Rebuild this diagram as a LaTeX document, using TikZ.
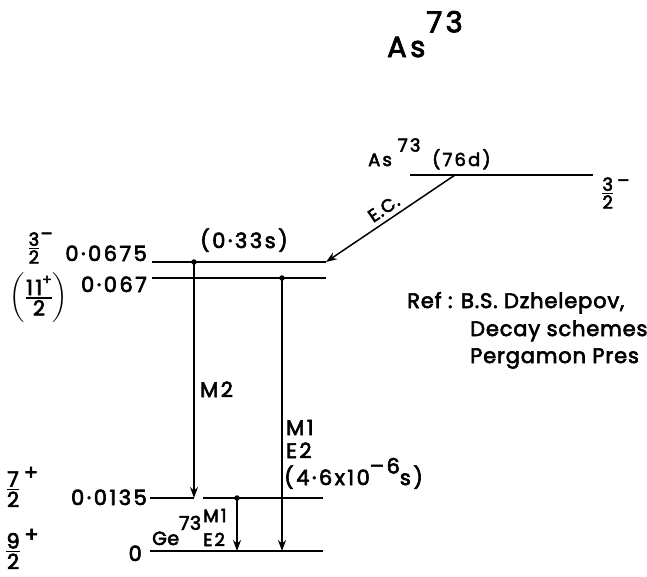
\documentclass[tikz,border=0pt]{standalone}
\usepackage{amsmath}
\usepackage{fontspec}
\setmainfont{Poppins}[LetterSpace=12, FakeBold=3]
\usetikzlibrary{arrows.meta,positioning}
\newcommand\spinfrac[2]{$\genfrac{}{}{1.4pt}{1}{\mbox{#1}}{\mbox{#2}}$}
\tikzset{
  level/.style={line width=1.7pt},
  gammaline/.style={line width=1.5pt, -{Stealth[length=11pt,width=8pt]}},
  lbl/.style={inner sep=0pt, font=\fontsize{21}{23}\selectfont},
  smalllbl/.style={inner sep=0pt, font=\fontsize{18}{20}\selectfont},
  reflbl/.style={lbl, font=\fontsize{21}{23}\selectfont\addfontfeatures{LetterSpace=4}},
  dot/.style={circle, fill=black, inner sep=0pt, minimum size=5.5pt}
}
\begin{document}
\begin{tikzpicture}[x=1pt,y=-1pt]
  \useasboundingbox (0,0) rectangle (647,576);
  % title
  \node[lbl, font=\fontsize{29}{31}\selectfont, anchor=base west] (title)
    at (387,57) {As\hspace{1pt}\raisebox{0.85em}{73}};

  % As73 parent level
  \coordinate (asL) at (410,175);
  \coordinate (asR) at (593,175);
  \coordinate (ecFrom) at (455,175);
  \draw[level] (asL) -- (asR);
  \node[smalllbl, anchor=base west] (asName) at (368,166) {As\hspace{6pt}\raisebox{0.8em}{73}};
  \node[smalllbl, anchor=base west] (asLife) at (432,166) {(76d)};
  \node[smalllbl, anchor=west] (asSpin) at (601,193) {\spinfrac{3}{2}\raisebox{0.6em}{\,–}};

  % 0.0675 level
  \coordinate (aL) at (152,262);
  \coordinate (aR) at (326,262);
  \draw[level] (aL) -- (aR);
  \node[dot] (aDot) at (194,262) {};
  \node[lbl, anchor=base east] (aE) at (147,261) {0·0675};
  \node[smalllbl, anchor=center] (aSpin) at (40,248) {\spinfrac{3}{2}\raisebox{0.7em}{–}};
  \node[lbl, anchor=base west] (aLife) at (200,248) {(0·33s)};
  \draw[gammaline] (ecFrom) -- node[smalllbl, sloped, above=5pt,
    font=\fontsize{18}{20}\selectfont\addfontfeatures{LetterSpace=5}] (ecLbl) {E.C.} (aR);

  % 0.067 level
  \coordinate (bL) at (152,278);
  \coordinate (bR) at (326,278);
  \draw[level] (bL) -- (bR);
  \node[dot] (bDot) at (282,278) {};
  \node[lbl, anchor=base east] (bE) at (147,292) {0·067};
  \node[lbl, anchor=center] (bSpin) at (39,298)
    {$\left(\genfrac{}{}{1.4pt}{1}{\mbox{11\raisebox{0.5em}{\fontsize{14}{15}\selectfont+}}}{\mbox{2}}\right)$};

  % 0.0135 level
  \coordinate (cL) at (150,498);
  \coordinate (cM) at (194,498);
  \coordinate (cN) at (203,498);
  \coordinate (cR) at (323,498);
  \draw[level] (cL) -- (cM);
  \draw[level] (cN) -- (cR);
  \node[dot] (cDot) at (237,498) {};
  \node[lbl, anchor=base east] (cE) at (147,505) {0·0135};
  \node[lbl, anchor=center] (cSpin) at (22,487) {\spinfrac{7}{2}\raisebox{0.7em}{\,+}};

  % ground level
  \coordinate (gL) at (150,551);
  \coordinate (gR) at (323,551);
  \coordinate (gM) at (237,551);
  \coordinate (gB) at (282,551);
  \draw[level] (gL) -- (gR);
  \node[lbl, anchor=base east] (gE) at (142,561) {0};
  \node[smalllbl, anchor=base west,
    font=\fontsize{19}{21}\selectfont\addfontfeatures{LetterSpace=2}] (gName)
    at (152,545) {Ge\raisebox{0.8em}{73}};
  \node[lbl, anchor=center] (gSpin) at (22,549) {\spinfrac{9}{2}\raisebox{0.7em}{\,+}};

  % gamma transitions
  \draw[gammaline] (aDot.center) -- (cM);
  \node[lbl, anchor=base west] (m2) at (200,397) {M2};
  \draw[gammaline] (bDot.center) -- (gB);
  \node[lbl, anchor=base west] (m1a) at (286,435) {M1};
  \node[lbl, anchor=base west] (e2a) at (286,458) {E2};
  \node[lbl, anchor=base west] (life) at (284,485)
    {(4·6x10\raisebox{0.55em}{–6}s)};
  \draw[gammaline] (cDot.center) -- (gM);
  \node[smalllbl, anchor=base west] (m1b) at (203,522) {M1};
  \node[smalllbl, anchor=base west] (e2b) at (203,546) {E2};

  % reference
  \node[reflbl, anchor=base west] (ref1) at (407,308) {Ref : B.S. Dzhelepov,};
  \node[reflbl, anchor=base west] (ref2) at (470,336) {Decay schemes};
  \node[reflbl, anchor=base west] (ref3) at (470,363) {Pergamon Pres};
\end{tikzpicture}
\end{document}
